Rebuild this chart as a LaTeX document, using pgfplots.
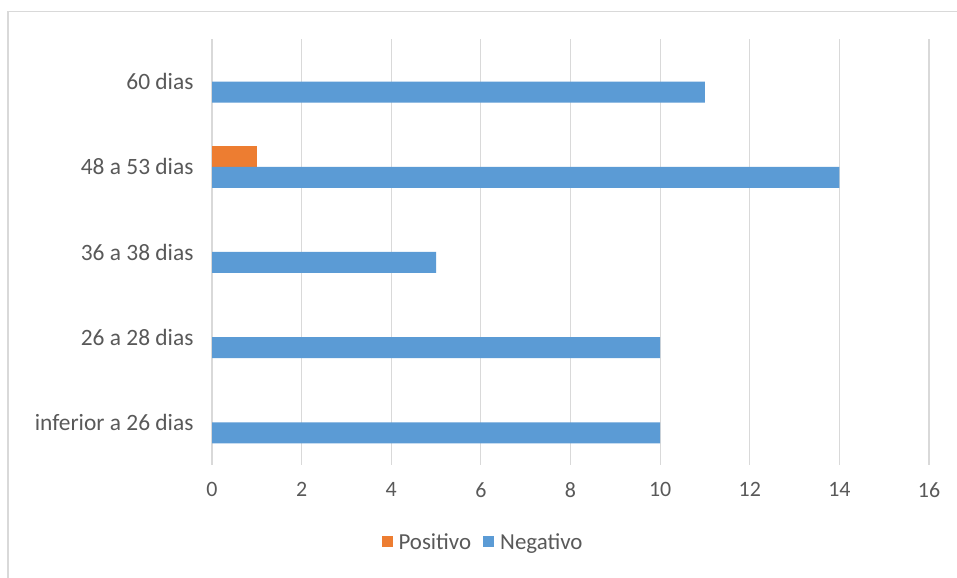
\documentclass[border=0pt]{standalone}
\usepackage{fontspec}
\setmainfont{Carlito}
\usepackage{pgfplots}
\pgfplotsset{compat=1.18}
\definecolor{xblue}{HTML}{5B9BD5}
\definecolor{xorange}{HTML}{ED7D31}
\definecolor{xgrid}{HTML}{D9D9D9}
\definecolor{xtext}{HTML}{595959}
\begin{document}
\begin{tikzpicture}[x=1bp,y=1bp]
\useasboundingbox (0,0) rectangle (957,578);
\fill[white] (0,0) rectangle (957,578);
\draw[xgrid,line width=1.5bp] (8,-5) -- (8,566.5) -- (962,566.5);
\begin{axis}[
  at={(212bp,113bp)}, anchor=south west,
  scale only axis, width=717bp, height=426bp,
  xbar, bar width=21bp,
  xmin=0, xmax=16, ymin=-0.5, ymax=4.5,
  xtick={0,2,...,16},
  ytick={0,1,2,3,4},
  yticklabels={inferior a 26 dias, 26 a 28 dias, 36 a 38 dias, 48 a 53 dias, 60 dias},
  axis line style={draw=none},
  major tick length=0pt,
  xmajorgrids, grid style={xgrid, line width=1.2bp},
  ticklabel style={font=\fontsize{22}{26}\selectfont, text=xtext},
  /pgf/number format/assume math mode=true,
  xticklabel style={yshift=-14bp},
  yticklabel style={anchor=east, xshift=-15bp, font=\fontsize{23.5}{26}\selectfont},
  legend columns=2,
  legend style={draw=none, at={(0.378,-0.181)}, anchor=center,
    font=\fontsize{23}{26}\selectfont, text=xtext,
    /tikz/every odd column/.append style={column sep=4bp},
    /tikz/every even column/.append style={column sep=10bp}},
  legend image code/.code={\fill[#1] (-5bp,-5bp) rectangle (6bp,6bp);},
]
\addplot[fill=xorange, draw=none, bar shift=10.5bp] coordinates {(1,3)};
\addlegendentry{Positivo}
\addplot[fill=xblue, draw=none, bar shift=-10.5bp] coordinates {(10,0) (10,1) (5,2) (14,3) (11,4)};
\addlegendentry{Negativo}
\end{axis}
\end{tikzpicture}
\end{document}
